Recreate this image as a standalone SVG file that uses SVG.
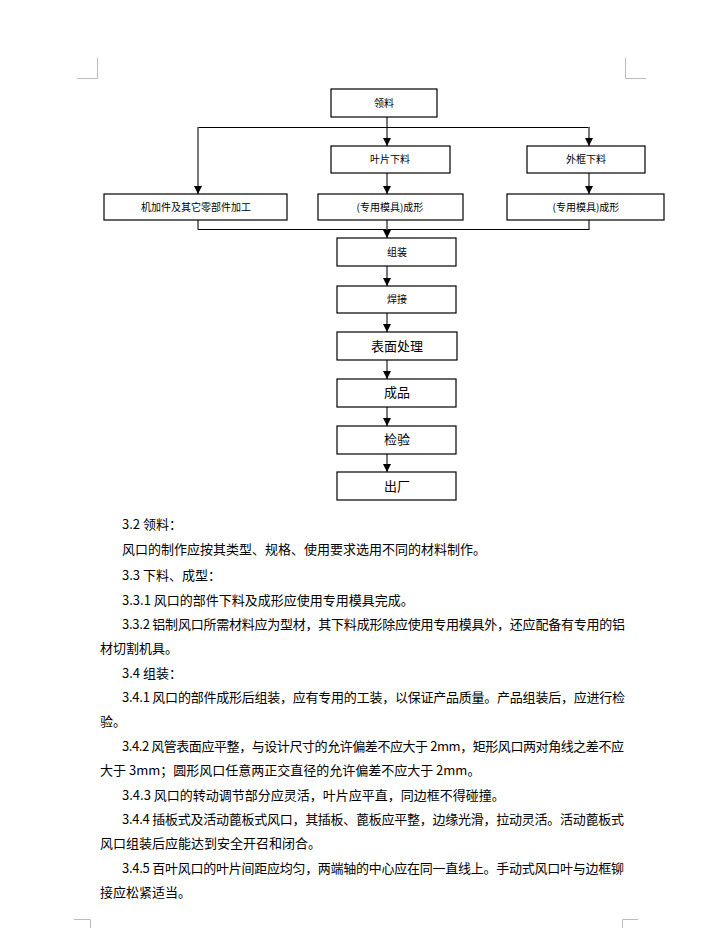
<svg xmlns="http://www.w3.org/2000/svg" width="705" height="928" viewBox="0 0 705 928">
<style>
.box{fill:#fff;stroke:#000;stroke-width:1.2}
.t{font-family:"Noto Sans CJK SC","Liberation Sans",sans-serif;fill:#000;text-anchor:middle}
.s{font-size:10px}
.m{font-size:13px}
.p{font-family:"Noto Sans CJK SC","Liberation Sans",sans-serif;font-size:13px;fill:#000}
.v{stroke:#555;stroke-width:1.6;fill:none}
.h{stroke:#000;stroke-width:1;fill:none}
.crop{stroke:#bbb;stroke-width:1;fill:none}
</style>
<defs>
<marker id="ah" viewBox="0 0 8 8" refX="8" refY="4" markerWidth="8" markerHeight="8" markerUnits="userSpaceOnUse" orient="auto">
<path d="M0,0 L8,4 L0,8 Z" fill="#000"/>
</marker>
</defs>
<rect width="705" height="928" fill="#fff"/>
<g id="crop-marks">
<path class="crop" d="M97.5,58 V78.5 H77"/>
<path class="crop" d="M625.5,58 V78.5 H646"/>
<path class="crop" d="M74,919.5 H90.5 V928"/>
<path class="crop" d="M638,919.5 H622.5 V928"/>
</g>
<g id="connectors">
<path class="v" d="M387,117 V146" marker-end="url(#ah)"/>
<path class="h" d="M198,127.5 H589.5"/>
<path class="v" d="M198,127 V194" marker-end="url(#ah)"/>
<path class="v" d="M589,127 V146" marker-end="url(#ah)"/>
<path class="v" d="M387,173 V194" marker-end="url(#ah)"/>
<path class="v" d="M589,173 V194" marker-end="url(#ah)"/>
<path class="v" d="M198,220 V229.5"/>
<path class="v" d="M589,220 V229.5"/>
<path class="h" d="M198,229.5 H589.5"/>
<path class="v" d="M387,220 V238" marker-end="url(#ah)"/>
<path class="v" d="M387,266 V286" marker-end="url(#ah)"/>
<path class="v" d="M387,313 V332" marker-end="url(#ah)"/>
<path class="v" d="M387,360 V379" marker-end="url(#ah)"/>
<path class="v" d="M387,407 V426" marker-end="url(#ah)"/>
<path class="v" d="M387,454 V472" marker-end="url(#ah)"/>
</g>
<g id="n-lingliao"><rect class="box" x="331" y="89" width="106" height="28"/><text class="t s" x="384" y="107">领料</text></g>
<g id="n-yepian"><rect class="box" x="331" y="146" width="119" height="27"/><text class="t s" x="390" y="163">叶片下料</text></g>
<g id="n-waikuang"><rect class="box" x="527" y="146" width="118" height="27"/><text class="t s" x="586" y="163">外框下料</text></g>
<g id="n-jijia"><rect class="box" x="104" y="194" width="183" height="26"/><text class="t s" x="196" y="211">机加件及其它零部件加工</text></g>
<g id="n-chengxing1"><rect class="box" x="318" y="194" width="145" height="26"/><text class="t s" x="390" y="211">(专用模具)成形</text></g>
<g id="n-chengxing2"><rect class="box" x="507" y="194" width="157" height="26"/><text class="t s" x="586" y="211">(专用模具)成形</text></g>
<g id="n-zuzhuang"><rect class="box" x="337" y="238" width="119" height="28"/><text class="t s" x="397" y="256">组装</text></g>
<g id="n-hanjie"><rect class="box" x="337" y="286" width="119" height="27"/><text class="t s" x="397" y="303">焊接</text></g>
<g id="n-biaomian"><rect class="box" x="337" y="332" width="120" height="28"/><text class="t m" x="397" y="351">表面处理</text></g>
<g id="n-chengpin"><rect class="box" x="337" y="379" width="119" height="28"/><text class="t m" x="397" y="397">成品</text></g>
<g id="n-jianyan"><rect class="box" x="337" y="426" width="119" height="28"/><text class="t m" x="397" y="444">检验</text></g>
<g id="n-chuchang"><rect class="box" x="337" y="472" width="119" height="28"/><text class="t m" x="397" y="491">出厂</text></g>
<g id="body-text">
<text class="p" x="122" y="529">3.2 领料：</text>
<text class="p" x="122" y="554">风口的制作应按其类型、规格、使用要求选用不同的材料制作。</text>
<text class="p" x="122" y="580">3.3 下料、成型：</text>
<text class="p" x="122" y="605">3.3.1 风口的部件下料及成形应使用专用模具完成。</text>
<text class="p" x="122" y="629" textLength="503" lengthAdjust="spacing">3.3.2 铝制风口所需材料应为型材，其下料成形除应使用专用模具外，还应配备有专用的铝</text>
<text class="p" x="100" y="653">材切割机具。</text>
<text class="p" x="122" y="678">3.4 组装：</text>
<text class="p" x="122" y="702" textLength="503" lengthAdjust="spacing">3.4.1 风口的部件成形后组装，应有专用的工装，以保证产品质量。产品组装后，应进行检</text>
<text class="p" x="100" y="726">验。</text>
<text class="p" x="122" y="751" textLength="502" lengthAdjust="spacing">3.4.2 风管表面应平整，与设计尺寸的允许偏差不应大于 2mm，矩形风口两对角线之差不应</text>
<text class="p" x="100" y="775">大于 3mm；圆形风口任意两正交直径的允许偏差不应大于 2mm。</text>
<text class="p" x="122" y="800">3.4.3 风口的转动调节部分应灵活，叶片应平直，同边框不得碰撞。</text>
<text class="p" x="122" y="824" textLength="502" lengthAdjust="spacing">3.4.4 插板式及活动蓖板式风口，其插板、蓖板应平整，边缘光滑，拉动灵活。活动蓖板式</text>
<text class="p" x="100" y="848">风口组装后应能达到安全开召和闭合。</text>
<text class="p" x="122" y="873" textLength="502" lengthAdjust="spacing">3.4.5 百叶风口的叶片间距应均匀，两端轴的中心应在同一直线上。手动式风口叶与边框铆</text>
<text class="p" x="100" y="897">接应松紧适当。</text>
</g>
</svg>
